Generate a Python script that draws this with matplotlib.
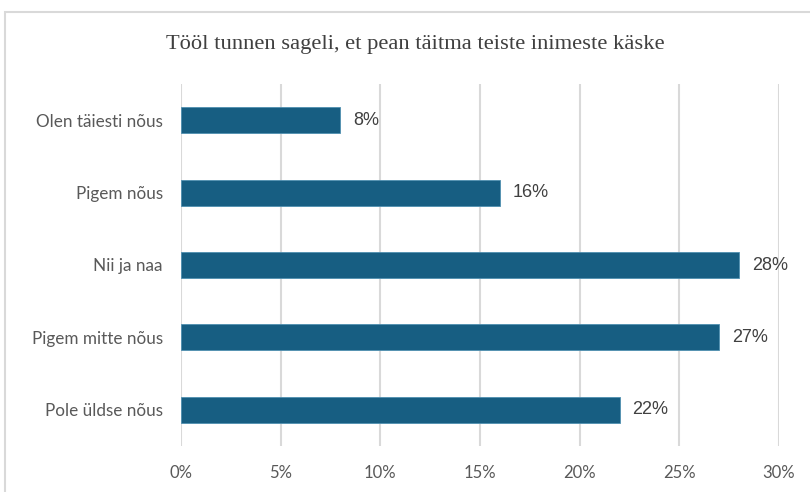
import matplotlib
matplotlib.use("Agg")
import matplotlib.pyplot as plt
from matplotlib.patches import Rectangle

title = "Tööl tunnen sageli, et pean täitma teiste inimeste käske"
categories = ["Olen täiesti nõus", "Pigem nõus", "Nii ja naa", "Pigem mitte nõus", "Pole üldse nõus"]
values = [8, 16, 28, 27, 22]
xticks = [0, 5, 10, 15, 20, 25, 30]
xticklabels = ["0%", "5%", "10%", "15%", "20%", "25%", "30%"]

W, H = 810, 492
fig = plt.figure(figsize=(W / 100, H / 100), dpi=100)
fig.patch.set_facecolor("white")

# light border of chart area
fig.patches.append(Rectangle((5 / W, -0.1), 1.2, 1.1 - 12 / H, transform=fig.transFigure,
                             fill=False, edgecolor="#d9d9d9", lw=1.5))

ax = fig.add_axes([181 / W, 1 - 446 / H, (779 - 181) / W, (446 - 84) / H])
ypos = list(range(len(categories)))
ax.barh(ypos, values, height=0.36, color="#175e82", edgecolor="#4f8fb0", linewidth=0.6, zorder=3)
ax.set_ylim(len(categories) - 0.5, -0.5)
ax.set_xlim(0, 30)
ax.set_xticks(xticks)
ax.set_xticklabels(xticklabels)
ax.set_yticks(ypos)
ax.set_yticklabels(categories)
for lab in ax.get_yticklabels():
    lab.set_family(["Lato", "DejaVu Sans"])
    lab.set_fontsize(12.3)
    lab.set_color("#595959")
for lab in ax.get_xticklabels():
    lab.set_family(["Lato", "DejaVu Sans"])
    lab.set_fontsize(12)
    lab.set_color("#595959")
ax.tick_params(axis="y", length=0, pad=13)
ax.tick_params(axis="x", length=0, pad=14)
ax.grid(axis="x", color="#d9d9d9", lw=1.5, zorder=0)
for s in ax.spines.values():
    s.set_visible(False)

for y, v in zip(ypos, values):
    ax.annotate(f"{v}%", xy=(v, y), xytext=(13, 0), textcoords="offset pixels",
                va="center", ha="left", fontsize=13, color="#404040",
                family=["Liberation Sans", "DejaVu Sans"])

fig.text(415 / W, 1 - 45 / H, title, ha="center", va="center", fontsize=16.2,
         color="#404040", family=["Liberation Serif", "DejaVu Serif"])

fig.savefig("out.png", dpi=100)
